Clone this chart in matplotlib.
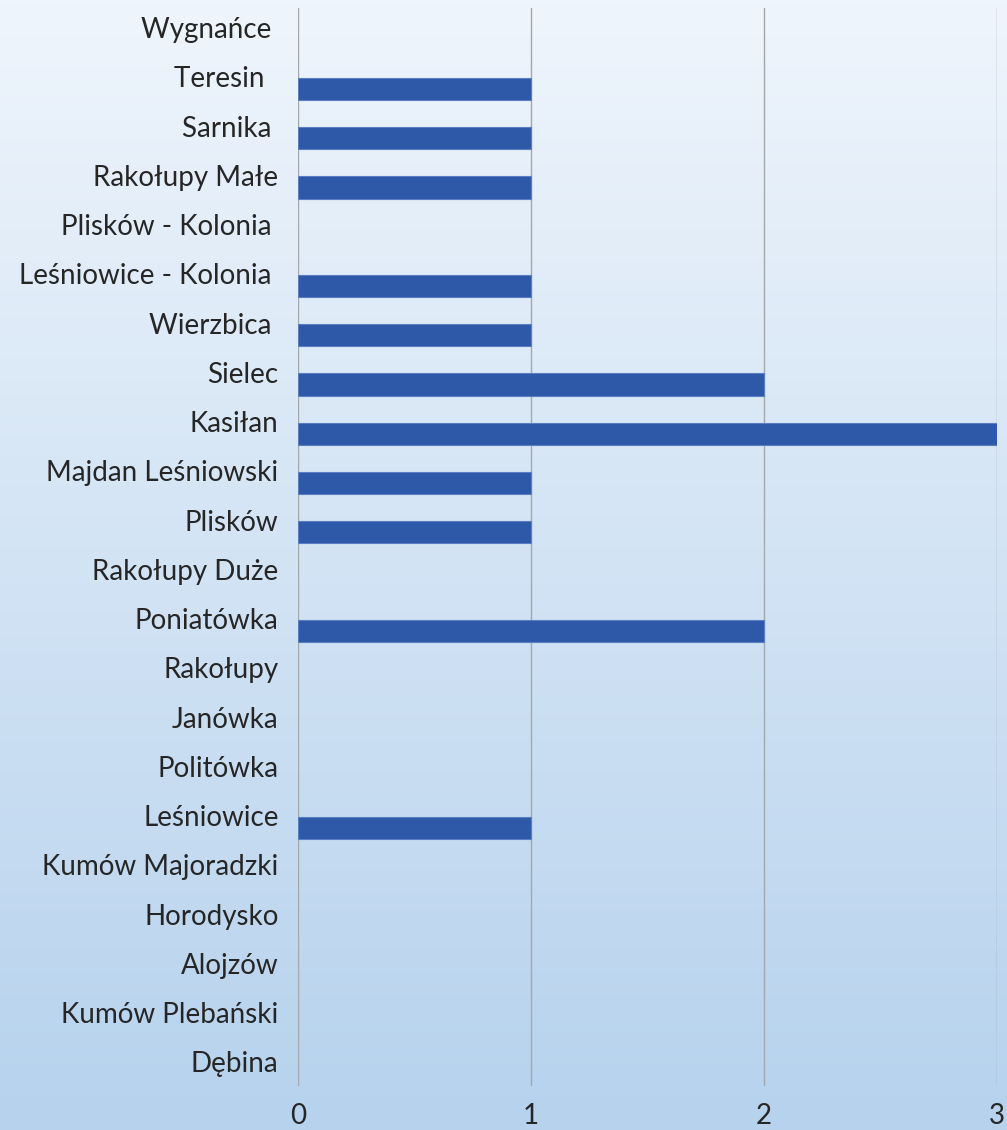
import numpy as np
import matplotlib.pyplot as plt

plt.rcParams['font.family'] = ['Lato', 'DejaVu Sans']

places = ['Wygnańce ', 'Teresin  ', 'Sarnika ', 'Rakołupy Małe', 'Plisków - Kolonia ',
          'Leśniowice - Kolonia ', 'Wierzbica ', 'Sielec', 'Kasiłan', 'Majdan Leśniowski',
          'Plisków', 'Rakołupy Duże', 'Poniatówka', 'Rakołupy', 'Janówka', 'Politówka',
          'Leśniowice', 'Kumów Majoradzki', 'Horodysko', 'Alojzów', 'Kumów Plebański', 'Dębina']
counts = [0, 1, 1, 1, 0, 1, 1, 2, 3, 1, 1, 0, 2, 0, 0, 0, 1, 0, 0, 0, 0, 0]
xticks = [0, 1, 2, 3]

fig = plt.figure(figsize=(10.07, 11.3), dpi=100)

# gradient background
bg = fig.add_axes([0, 0, 1, 1])
grad = np.linspace(0, 1, 256).reshape(-1, 1)
top = np.array([0xef, 0xf5, 0xfc]) / 255
bot = np.array([0xb6, 0xd2, 0xed]) / 255
img = top[None, None, :] * (1 - grad[:, :, None]) + bot[None, None, :] * grad[:, :, None]
bg.imshow(img, aspect='auto', extent=[0, 1, 0, 1])
bg.axis('off')

ax = fig.add_axes([0.2959, 0.0389, 0.6941, 0.9540])
ax.patch.set_alpha(0)

ypos = np.arange(len(places))
bars = ax.barh(ypos + 0.245, counts, height=0.45, color='#2e58a8', edgecolor='#5a7fc0',
               linewidth=0.8, zorder=3)
for b, c in zip(bars, counts):
    if c == 0:
        b.set_visible(False)

ax.set_xlim(0, 3)
ax.set_ylim(21.49, -0.4)
ax.set_yticks(ypos)
ax.set_yticklabels(places, fontsize=20, color='#262626')
ax.set_xticks(xticks)
ax.set_xticklabels([str(t) for t in xticks], fontsize=20, color='#262626')
ax.tick_params(axis='y', length=0, pad=14)
ax.tick_params(axis='x', length=0, pad=12)
ax.grid(axis='x', color='#a3a8ad', linewidth=1.0, zorder=1)
for s in ax.spines.values():
    s.set_visible(False)

fig.savefig('out.png', dpi=100)
